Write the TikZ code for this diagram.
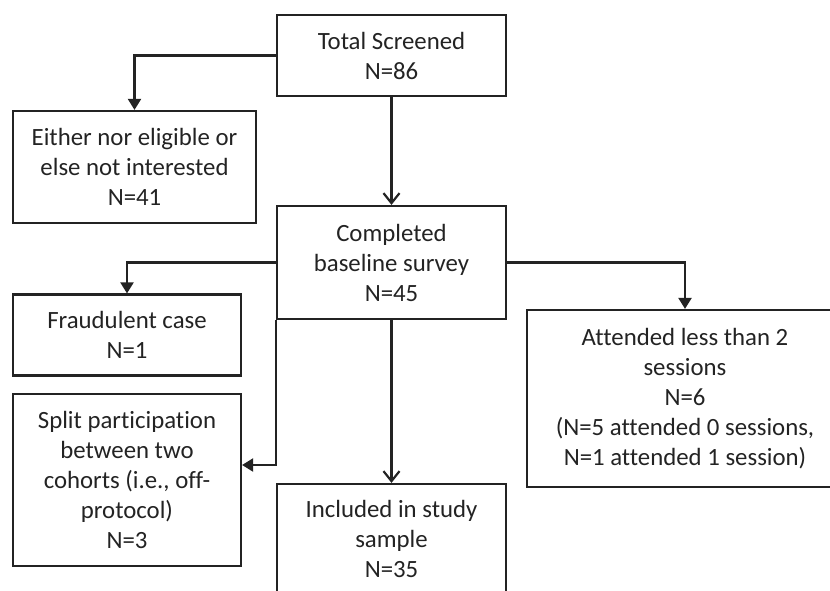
\documentclass[tikz,border=0pt]{standalone}
\usepackage{fontspec}
\setmainfont{Carlito}[Ligatures=NoCommon]
\usetikzlibrary{arrows.meta}
\definecolor{lineGray}{RGB}{35,35,35}

\begin{document}
\begin{tikzpicture}[x=1pt, y=-1pt,
  every node/.style={font=\fontsize{24.8}{30}\selectfont, align=center, text=lineGray},
  box/.style={draw=lineGray, line width=2.2pt, rectangle, inner sep=0pt},
  mainarrow/.style={draw=lineGray, line width=2.2pt, -{Straight Barb[length=10pt,width=16pt]}},
  sidearrow/.style={draw=lineGray, line width=2.2pt, -{Triangle[length=11pt,width=13pt]}}]
\clip (0,0) rectangle (830,591);

% Main column
\node[box, minimum width=229pt, minimum height=81pt] (total) at (391.5,55.5) {Total Screened\\N=86};
\node[box, minimum width=229pt, minimum height=113pt] (completed) at (391.5,262.5) {Completed\\baseline survey\\N=45};
\node[box, minimum width=229pt, minimum height=110pt] (included) at (391.5,539) {Included in study\\sample\\N=35};

% Excluded cases
\node[box, minimum width=243pt, minimum height=112pt] (either) at (134.5,167) {Either nor eligible or\\else not interested\\N=41};
\node[box, minimum width=228pt, minimum height=81pt] (fraud) at (127,335) {Fraudulent case\\N=1};
\node[box, minimum width=228pt, minimum height=172pt] (split) at (127,480) {Split participation\\between two\\cohorts (i.e., off-\\protocol)\\N=3};
\node[box, minimum width=316pt, minimum height=177pt] (attended) at (685,398.5) {Attended less than 2\\sessions\\N=6\\(N=5 attended 0 sessions,\\N=1 attended 1 session)};

% Arrows
\draw[mainarrow] (total) -- (completed);
\draw[mainarrow] (completed) -- (included);
\draw[sidearrow] (total.west) -| (either.north);
\draw[sidearrow] (completed.west) -| (fraud.north);
\draw[sidearrow] (completed.south west) |- ([yshift=15pt]split.east);
\draw[sidearrow] (completed.east) -| (attended.north);
\end{tikzpicture}
\end{document}
